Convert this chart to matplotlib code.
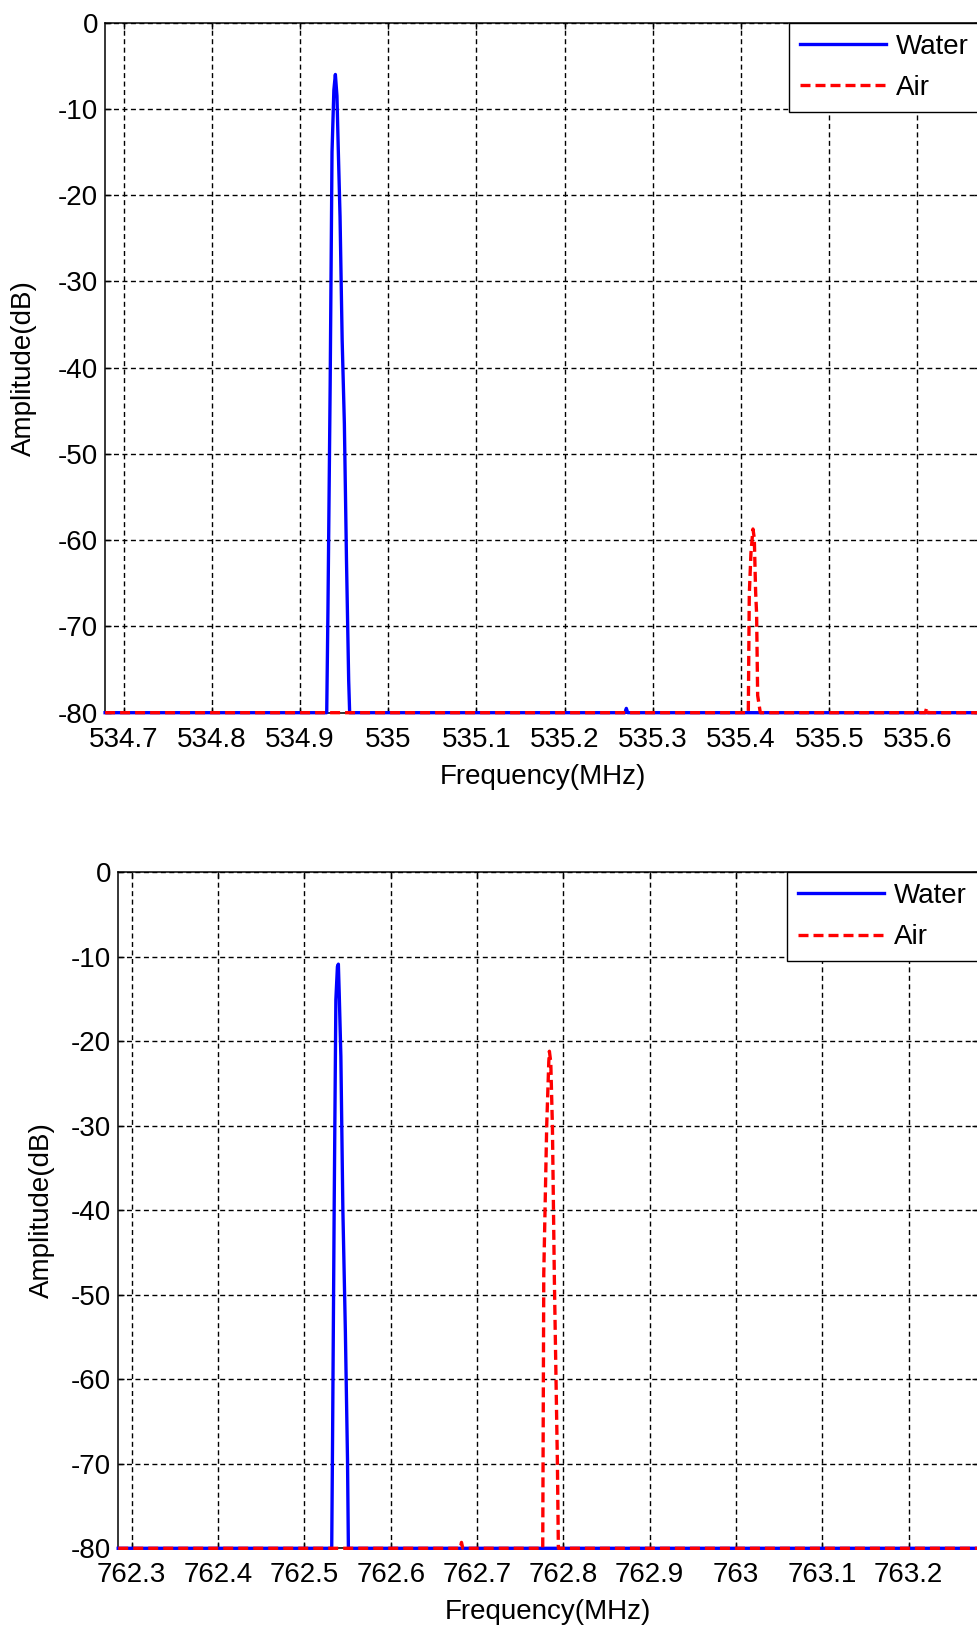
import matplotlib
matplotlib.use("Agg")
import matplotlib.pyplot as plt
from matplotlib import font_manager

# fuente estrecha tipo MATLAB si existe
nombres = {f.name for f in font_manager.fontManager.ttflist}
fuente = "Liberation Sans Narrow" if "Liberation Sans Narrow" in nombres else "Liberation Sans"
plt.rcParams["font.family"] = [fuente, "DejaVu Sans"]

# ---- datos panel superior ----
top_water_f = [534.679, 534.9303, 534.9317, 534.9342, 534.9363, 534.9384, 534.9401,
               534.9419, 534.9433, 534.9454, 534.9478, 534.9503, 534.9527, 534.9552,
               534.9563, 535.2685, 535.2700, 535.2715, 535.671]
top_water_db = [-80, -80, -68, -42, -15, -7.8, -6.0,
                -8.5, -14.3, -22.5, -36.8, -46.5, -62.3, -76.3,
                -80, -80, -79.5, -80, -80]
top_air_f = [534.679, 535.4083, 535.4094, 535.4113, 535.4136, 535.4151, 535.4166,
             535.4177, 535.4189, 535.4219, 535.6090, 535.6106, 535.6120, 535.671]
top_air_db = [-80, -80, -66.3, -61.5, -58.7, -59.8, -66,
              -68.5, -78, -80, -80, -79.4, -80, -80]
top_xticks = [534.7, 534.8, 534.9, 535.0, 535.1, 535.2, 535.3, 535.4, 535.5, 535.6]
top_xlabels = ["534.7", "534.8", "534.9", "535", "535.1", "535.2", "535.3", "535.4", "535.5", "535.6"]

# ---- datos panel inferior ----
bot_water_f = [762.2844, 762.5317, 762.5327, 762.5346, 762.5365, 762.5383, 762.5394,
               762.5404, 762.5423, 762.5446, 762.5475, 762.5500, 762.5510, 763.2804]
bot_water_db = [-80, -80, -66.8, -39.0, -15.1, -11.2, -10.9,
                -14.4, -21.8, -39.9, -54.3, -69.6, -80, -80]
bot_air_f = [762.2844, 762.6805, 762.6820, 762.6835, 762.7761, 762.7773, 762.7807,
             762.7831, 762.7838, 762.7854, 762.7873, 762.7896, 762.7931, 762.7942, 763.2804]
bot_air_db = [-80, -80, -79.3, -80, -80, -47.5, -30,
              -22.5, -21.2, -22.5, -30, -48.4, -70, -80, -80]
bot_xticks = [762.3, 762.4, 762.5, 762.6, 762.7, 762.8, 762.9, 763.0, 763.1, 763.2]
bot_xlabels = ["762.3", "762.4", "762.5", "762.6", "762.7", "762.8", "762.9", "763", "763.1", "763.2"]

yticks = [0, -10, -20, -30, -40, -50, -60, -70, -80]
ylabels = ["0", "-10", "-20", "-30", "-40", "-50", "-60", "-70", "-80"]

FS = 20

fig = plt.figure(figsize=(9.77, 16.26), dpi=100)
ax1 = fig.add_axes([0.10747, 0.56169, 0.8956, 0.42435])
ax2 = fig.add_axes([0.12098, 0.04779, 0.8802, 0.41593])


def panel(ax, wf, wdb, af, adb, xt, xl, xlim, ylab_x):
    # sin recorte para que la linea base en -80 se vea entera
    ax.plot(wf, wdb, color="blue", lw=2.4, label="Water", zorder=3, clip_on=False)
    ax.plot(af, adb, color="red", lw=2.4, ls=(0, (3.0, 1.5)), label="Air",
            zorder=4, clip_on=False)
    ax.set_xlim(*xlim)
    ax.set_ylim(-80, 0)
    ax.set_xticks(xt)
    ax.set_xticklabels(xl)
    ax.set_yticks(yticks)
    ax.set_yticklabels(ylabels)
    ax.tick_params(direction="in", length=4.5, width=1.0, labelsize=FS,
                   top=True, right=True, colors="black")
    ax.tick_params(axis="x", pad=10)
    ax.tick_params(axis="y", pad=5)
    ax.grid(True, color="black", lw=1.0, ls=(0, (3.6, 2.5)))
    ax.set_axisbelow(True)
    for s in ax.spines.values():
        s.set_linewidth(1.1)
        s.set_color("black")
    ax.set_xlabel("Frequency(MHz)", fontsize=FS)
    ax.set_ylabel("Amplitude(dB)", fontsize=FS)
    ax.xaxis.set_label_coords(0.5, -0.075)
    ax.yaxis.set_label_coords(ylab_x, 0.5)
    leg = ax.legend(loc="upper right", borderaxespad=0, fancybox=False,
                    edgecolor="black", framealpha=1, fontsize=FS,
                    handlelength=3.1, handletextpad=0.36, borderpad=0.4,
                    labelspacing=0.55)
    leg.get_frame().set_linewidth(1.0)


panel(ax1, top_water_f, top_water_db, top_air_f, top_air_db,
      top_xticks, top_xlabels, (534.6789, 535.671), -0.078)
panel(ax2, bot_water_f, bot_water_db, bot_air_f, bot_air_db,
      bot_xticks, bot_xlabels, (762.2844, 763.2804), -0.073)

fig.savefig("out.png", dpi=100)
